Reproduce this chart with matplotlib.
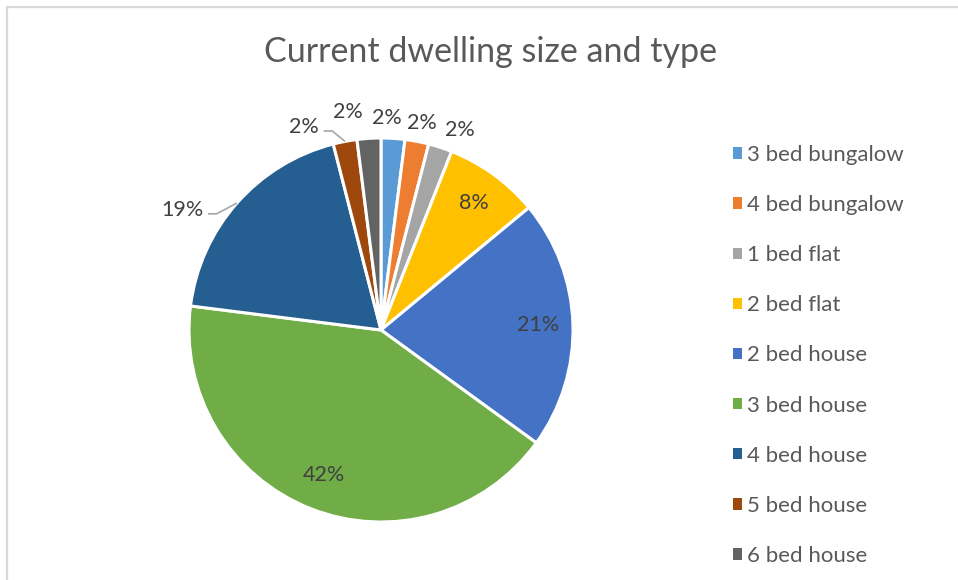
import matplotlib
matplotlib.use("Agg")
import matplotlib.pyplot as plt
from matplotlib.patches import Rectangle
import numpy as np

categories = ["3 bed bungalow", "4 bed bungalow", "1 bed flat", "2 bed flat",
              "2 bed house", "3 bed house", "4 bed house", "5 bed house", "6 bed house"]
values = [2, 2, 2, 8, 21, 42, 19, 2, 2]
colors = ["#5B9BD5", "#ED7D31", "#A5A5A5", "#FFC000", "#4472C4",
          "#70AD47", "#255E91", "#9E480E", "#636363"]
title = "Current dwelling size and type"

# label placement style: radius factor and angular offset (degrees) per wedge
label_r = [1.105, 1.10, 1.12, 0.82, 0.82, 0.81, 1.21, 1.13, 1.148]
label_dang = [2, -0.4, -3.6, 0, 0, 0, 10.3, 10, 5]
leader_idx = [6, 7]

plt.rcParams['font.family'] = ['Lato', 'DejaVu Sans']
W, H = 958, 580
fig = plt.figure(figsize=(W / 100, H / 100), dpi=100)
fig.patch.set_facecolor("white")

# chart area border
fig.add_artist(Rectangle((7 / W, -0.1), 1.2, (H - 7) / H + 0.1, transform=fig.transFigure,
                         fill=False, edgecolor="#D9D9D9", linewidth=1.6))

cx, cy, r = 381, 330, 192
ax = fig.add_axes([(cx - r) / W, (H - cy - r) / H, 2 * r / W, 2 * r / H])
wedges, _ = ax.pie(values, colors=colors, startangle=90, counterclock=False,
                   wedgeprops=dict(edgecolor="white", linewidth=2.2))
ax.set_aspect("equal")
ax.set_xlim(-1, 1)
ax.set_ylim(-1, 1)
ax.axis("off")

total = sum(values)
texts = []
for i, (w, v) in enumerate(zip(wedges, values)):
    ang = (w.theta1 + w.theta2) / 2 + label_dang[i]
    rr = label_r[i]
    x, y = rr * np.cos(np.radians(ang)), rr * np.sin(np.radians(ang))
    t = ax.text(x, y, f"{round(100 * v / total)}%", ha="center", va="center",
                fontsize=15.5, color="#404040", clip_on=False)
    texts.append((t, x, y))

fig.canvas.draw()
renderer = fig.canvas.get_renderer()
for i in leader_idx:
    t, tx, ty = texts[i]
    bb = t.get_window_extent(renderer).transformed(ax.transData.inverted())
    w = wedges[i]
    amid = np.radians((w.theta1 + w.theta2) / 2)
    ex, ey = np.cos(amid), np.sin(amid)
    sx = bb.x1 + 0.025
    kx = sx + 0.045
    ax.plot([sx, kx, ex], [ty - 0.02, ty - 0.02, ey], color="#A6A6A6",
            linewidth=1.2, clip_on=False, solid_capstyle="butt")

fig.text(490 / W, 1 - 52 / H, title, ha="center", va="center", fontsize=24.5, color="#595959")

handles = [Rectangle((0, 0), 1, 1, facecolor=c, edgecolor="none") for c in colors]
leg = fig.legend(handles, categories, loc="upper left", bbox_to_anchor=(713 / W, 1 - 125 / H),
                 frameon=False, fontsize=16, labelspacing=1.355, handlelength=0.42,
                 handleheight=0.42, handletextpad=0.22, labelcolor="#595959")

fig.savefig("out.png", dpi=100, facecolor="white")
